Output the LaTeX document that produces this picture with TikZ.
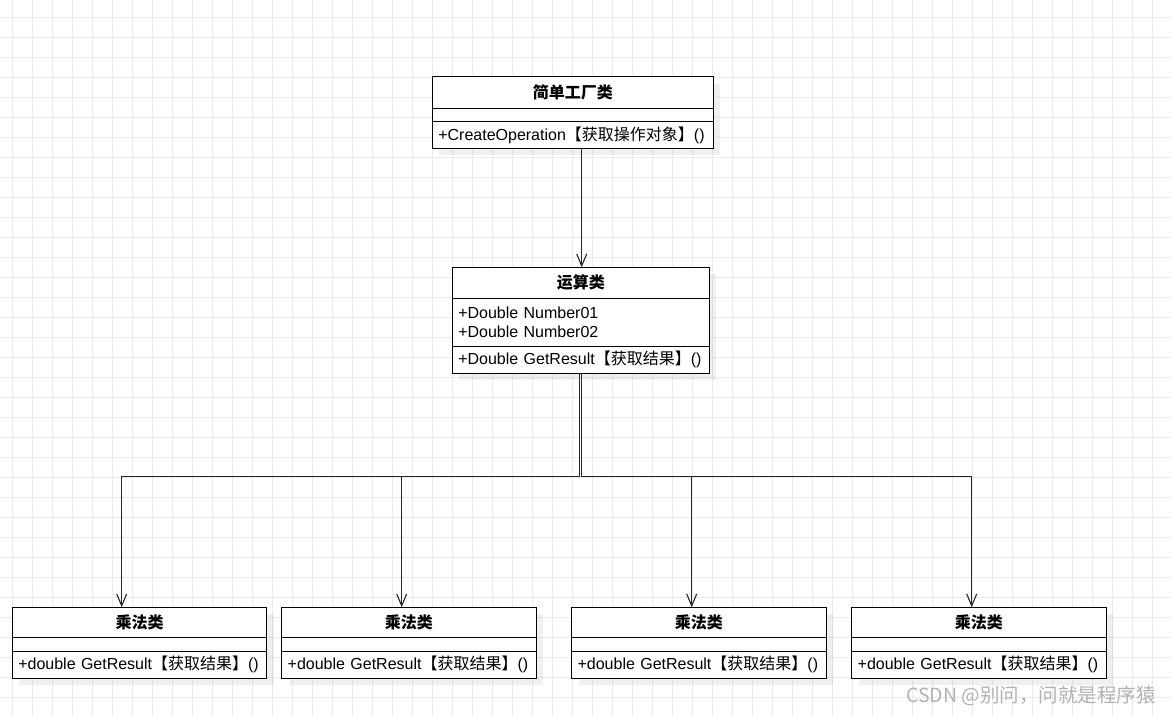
\documentclass[tikz,border=0pt]{standalone}
\usepackage{fontspec}
\setmainfont{Liberation Sans}
\newfontfamily\cjk{Noto Sans CJK SC}
\newcommand\cn[1]{{\cjk #1}}
\usetikzlibrary{arrows.meta}
\pgfdeclarelayer{bg}
\pgfsetlayers{bg,main}
\definecolor{gridc}{HTML}{EBEBEB}
\definecolor{edgec}{HTML}{262626}
\tikzset{
  gridline/.style={draw=gridc, line width=1pt},
  hdr/.style={draw=black, line width=1pt, fill=white, inner sep=0pt, outer sep=0pt, anchor=north west, font=\bfseries\fontsize{16}{19}\selectfont},
  compart/.style={draw=black, line width=1pt, fill=white, inner xsep=6pt, inner ysep=0pt, outer sep=0pt, anchor=north west, align=left, font=\fontsize{16}{18.6}\selectfont},
  shade/.style={fill=black, opacity=0.06},
  edge/.style={draw=edgec, line width=1.1pt, -{Straight Barb[length=12pt,width=10pt,line width=1.1pt]}},
  wm/.style={text=gray!60, font=\cjk\fontsize{19.5}{22}\selectfont, inner sep=0pt}
}
\begin{document}
\begin{tikzpicture}[x=1pt,y=-1pt]
\useasboundingbox (0,0) rectangle (1171,716);
\begin{pgfonlayer}{bg}
\fill[white] (0,0) rectangle (1171,716);
\foreach \gx in {12,32,...,1172} \draw[gridline] (\gx,0) -- (\gx,716);
\foreach \gy in {17,37,...,717} \draw[gridline] (0,\gy) -- (1171,\gy);
\end{pgfonlayer}

% top class
\node[hdr, minimum width=281, minimum height=31.6] (t1) at (432.3,76.7) {\cn{简单工厂类}};
\node[compart, minimum width=281, minimum height=13.4] (t2) at (t1.south west) {};
\node[compart, text width=269, minimum height=26.6] (t3) at (t2.south west) {+CreateOperation\cn{【获取操作对象】}()};

% middle class
\node[hdr, minimum width=257, minimum height=31] (m1) at (452.3,267.3) {\cn{运算类}};
\node[compart, text width=245, minimum height=47.7] (m2) at (m1.south west) {+Double Number01\\+Double Number02};
\node[compart, text width=245, minimum height=27.3] (m3) at (m2.south west) {+Double GetResult\cn{【获取结果】}()};

% bottom classes
\foreach \n/\bx in {1/12.3, 2/281.7, 3/571.6, 4/851.7} {
  \node[hdr, minimum width=254.4, minimum height=30.4] (b\n h) at (\bx,607.3) {\cn{乘法类}};
  \node[compart, minimum width=254.4, minimum height=13.3] (b\n a) at (b\n h.south west) {};
  \node[compart, text width=242.4, minimum height=27.3] (b\n m) at (b\n a.south west) {+double GetResult\cn{【获取结果】}()};
}

% shadows
\begin{pgfonlayer}{bg}
\fill[shade] ([shift={(7,7)}]t1.north west) rectangle ([shift={(7,7)}]t3.south east);
\fill[shade] ([shift={(7,7)}]m1.north west) rectangle ([shift={(7,7)}]m3.south east);
\foreach \n in {1,2,3,4}
  \fill[shade] ([shift={(7,7)}]b\n h.north west) rectangle ([shift={(7,7)}]b\n m.south east);
\end{pgfonlayer}

% connectors
\draw[edge] ([xshift=8.9pt]t3.south) -- ([xshift=8.9pt]t3.south |- m1.north);
\coordinate (ja) at ([xshift=-1pt]m3.south |- 0,476.7);
\coordinate (jb) at ([xshift=0.8pt]m3.south |- 0,476.7);
\draw[edge] ([xshift=-1pt]m3.south) -- (ja) -| ([xshift=-17.8pt]b1h.north);
\draw[edge] ([xshift=-1pt]m3.south) -- (ja) -| ([xshift=-7.2pt]b2h.north);
\draw[edge] ([xshift=0.8pt]m3.south) -- (jb) -| ([xshift=-7.1pt]b3h.north);
\draw[edge] ([xshift=0.8pt]m3.south) -- (jb) -| ([xshift=-7.2pt]b4h.north);

% watermark
\node[wm, anchor=east] (wmk) at (1156,696) {CSDN @别问，问就是程序猿};
\end{tikzpicture}
\end{document}
